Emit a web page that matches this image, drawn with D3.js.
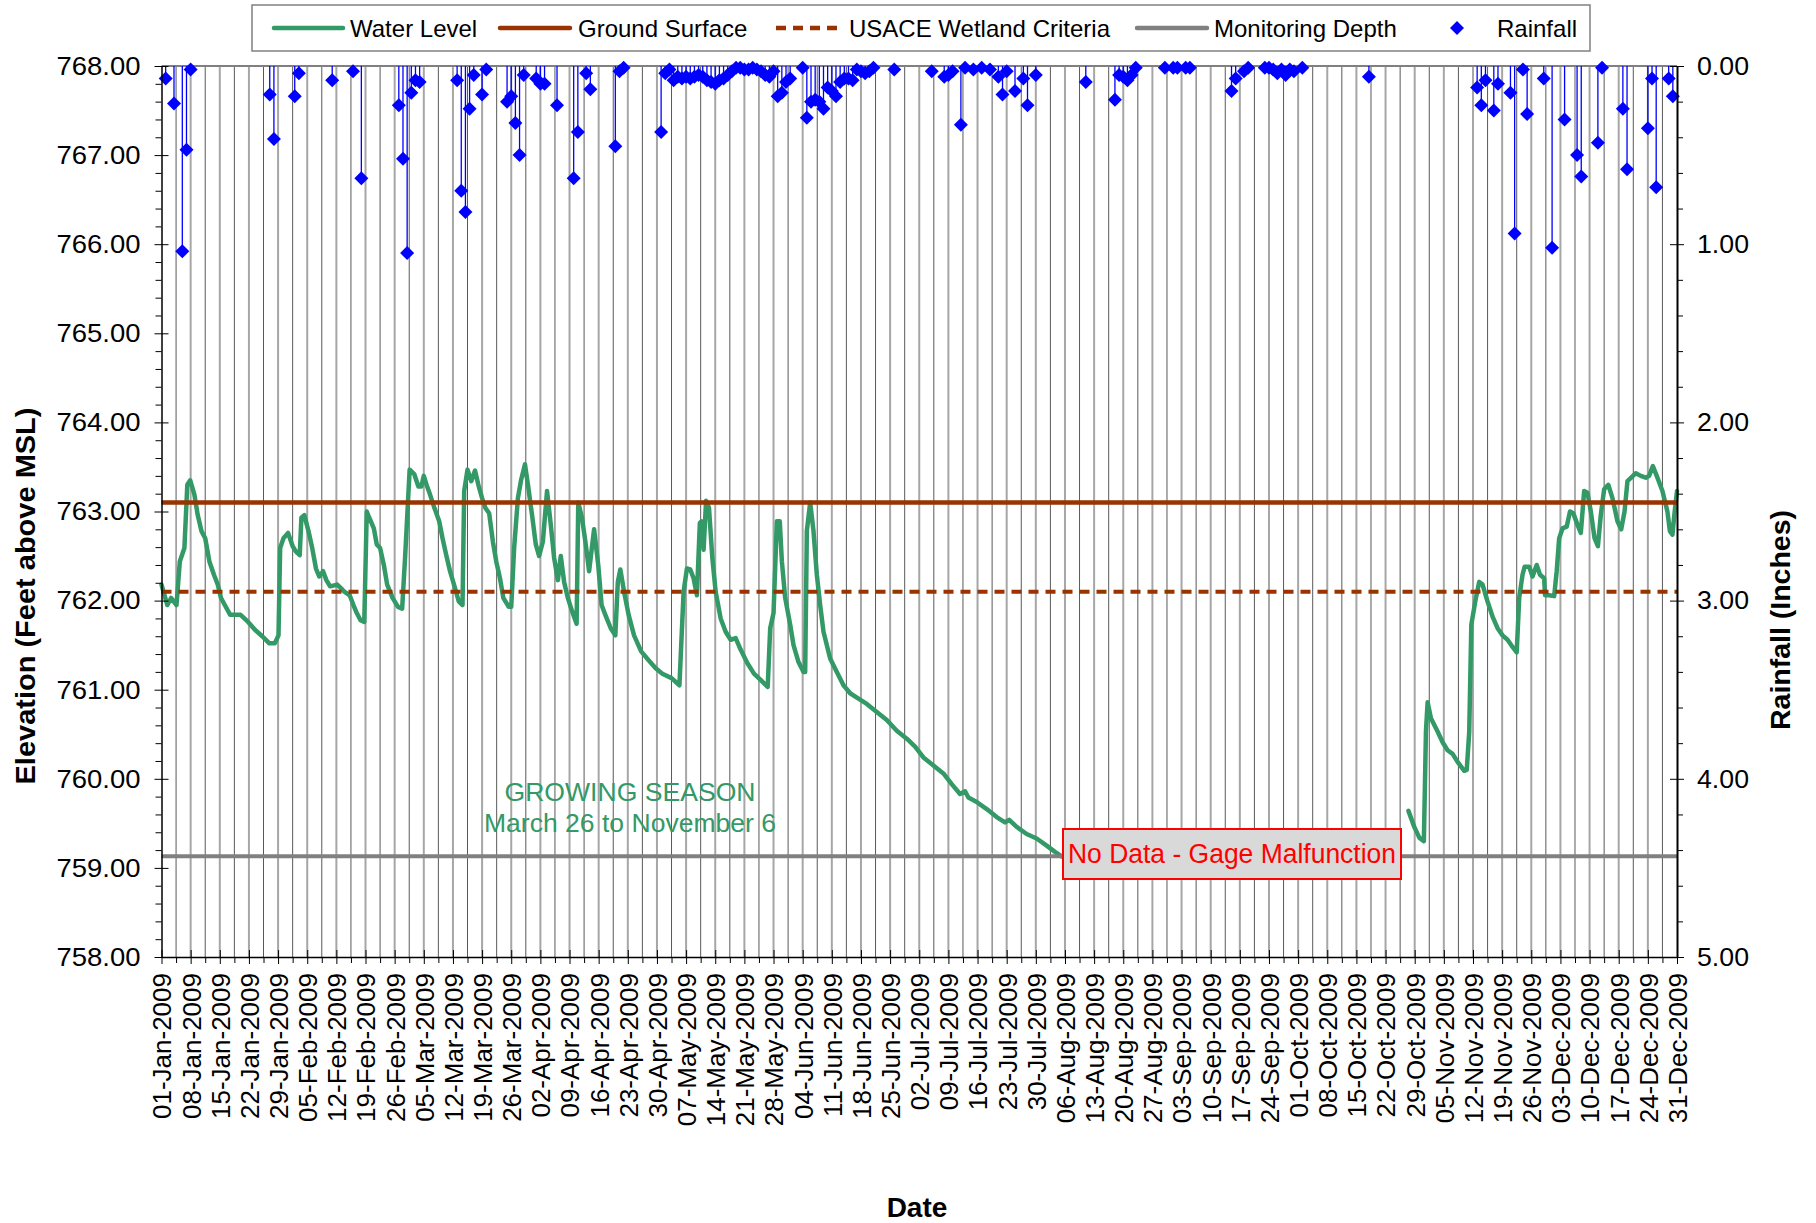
<!DOCTYPE html>
<html><head><meta charset="utf-8">
<script src="https://cdn.jsdelivr.net/npm/d3@7"></script>
<style>
body{margin:0;background:#fff;}
svg{display:block;}
text{font-family:"Liberation Sans",Arial,Helvetica,sans-serif;}
</style>
</head><body>
<svg id="chart" width="1816" height="1223"></svg>
<script>
// ---------------- DATA ----------------
// Day offsets from 01-Jan-2009 and water level elevation (ft above MSL); null = gage malfunction gap
const waterDay = [0,1.4,2.3,3.6,4.4,5.5,6.2,6.9,7.9,8.7,9.6,10.5,11.5,12.6,13.5,14.3,15.2,16.5,19,20.8,22.5,24.2,25.9,27.2,28.1,28.5,29.3,30.4,31.5,32.3,33.2,33.6,34.3,35.3,36.2,37.1,37.9,38.8,39.6,40.5,42.2,43.1,43.9,45.2,46.1,46.9,47.8,48.7,49.3,49.9,51,51.7,52.5,53.4,54.2,55.5,56.8,57.8,58.5,59.6,60.7,61.7,62.4,63,63.8,64.5,65.4,66.7,67.5,68.4,69.3,70.5,71.4,72.3,72.7,73.5,74.4,75.3,76.1,77,77.8,78.7,79.6,80.4,81.3,82.1,83.4,84,84.7,85.6,86.4,87.3,88.1,89,89.9,90.7,91.6,92.6,93.5,94.3,95.2,95.9,96.7,97.6,98.4,99.7,100.1,101,101.9,102.7,103.9,104.9,105.7,106.6,107.9,109,109.6,110.2,111.1,112.2,113.5,115.2,117,118.7,120.3,122.5,124.4,125.4,126.2,127,127.8,128.6,129.3,129.7,130.2,130.8,131.5,132.3,133.1,134.3,135.5,136.7,137.9,139.1,140.7,142.3,143.9,145.6,146.2,147,147.8,148.5,149,149.8,151,151.8,153,154.2,154.6,155,155.8,156.6,157.4,158.2,159,160.6,162.2,163.8,165.4,167.4,169.4,171.8,174.2,176.6,179,181,183,185.4,187.8,189.8,191.8,193,193.8,195.8,198.2,200.6,202.6,203.6,205.4,207.8,210.2,212.6,214.6,216.2,
  258,
  299.5,300.9,302.1,303.2,303.7,304.1,304.9,306.5,307.7,308.9,310.1,311.3,312.9,313.5,314.1,314.6,315.7,316.5,317.3,318.5,319.7,320.9,322.1,323.3,324.5,325.5,326.1,326.9,327.4,328.5,329.3,330.3,331.1,332.1,332.3,333.3,334.5,335.1,335.7,336.5,337.5,338.3,339.1,340.1,340.9,341.7,342.5,343.3,344.2,345,345.7,346.5,347.5,348.5,349.7,350.6,351.4,352.1,353,354.1,355.3,356.5,357.3,358.2,359.3,360.5,361.7,362.3,362.9,363.4,364];
const waterLevel = [762.18,761.95,762.03,761.95,762.44,762.59,763.30,763.35,763.19,762.96,762.78,762.70,762.44,762.29,762.18,762.03,761.95,761.84,761.84,761.76,761.67,761.60,761.52,761.52,761.61,762.59,762.70,762.76,762.61,762.55,762.51,762.93,762.96,762.78,762.59,762.36,762.27,762.33,762.23,762.16,762.18,762.14,762.10,762.06,761.95,761.86,761.78,761.76,763.00,762.93,762.81,762.63,762.59,762.40,762.18,762.03,761.93,761.91,762.48,763.47,763.42,763.28,763.28,763.40,763.28,763.19,763.06,762.89,762.70,762.51,762.33,762.14,761.99,761.95,763.23,763.47,763.34,763.46,763.30,763.15,763.04,762.98,762.66,762.44,762.25,762.03,761.93,761.93,762.59,763.15,763.36,763.53,763.27,762.96,762.63,762.50,762.66,763.23,762.85,762.48,762.23,762.50,762.21,762.03,761.91,761.74,763.10,762.93,762.63,762.33,762.80,762.40,761.95,761.84,761.69,761.61,762.21,762.35,762.10,761.84,761.61,761.43,761.33,761.24,761.18,761.13,761.05,762.10,762.36,762.35,762.25,762.06,762.87,762.89,762.57,763.12,763.04,762.48,762.10,761.80,761.65,761.56,761.58,761.45,761.30,761.18,761.11,761.03,761.69,761.86,762.89,762.89,762.44,762.03,761.73,761.50,761.31,761.20,761.20,762.78,763.10,762.78,762.29,761.95,761.65,761.35,761.20,761.05,760.96,760.90,760.84,760.75,760.66,760.54,760.45,760.36,760.24,760.15,760.06,759.94,759.83,759.86,759.79,759.74,759.66,759.57,759.51,759.54,759.46,759.38,759.33,759.25,759.18,759.13,
  null,
  759.64,759.46,759.34,759.30,760.53,760.86,760.68,760.53,760.41,760.32,760.28,760.19,760.09,760.10,760.53,761.73,762.03,762.21,762.18,761.99,761.82,761.69,761.61,761.56,761.48,761.42,762.03,762.29,762.38,762.38,762.27,762.40,762.29,762.25,762.06,762.06,762.05,762.33,762.70,762.81,762.83,763.00,762.98,762.85,762.76,763.23,763.21,763.00,762.70,762.61,762.96,763.25,763.30,763.15,762.89,762.80,763.00,763.34,763.38,763.43,763.40,763.38,763.40,763.51,763.38,763.23,763.00,762.78,762.74,762.98,763.23];

// Rainfall: day offset from 01-Jan-2009 and daily rainfall (inches)
const rainDay = [1,3,5,6,7,26,27,32,33,41,46,48,57,58,59,60,61,62,71,72,73,74,75,77,78,83,84,85,86,87,90,91,92,95,99,100,102,103,109,110,111,120,121,122,123,124,125,126,127,128,129,130,131,132,133,134,135,136,137,138,139,140,141,142,143,144,145,146,147,148,149,150,151,154,155,156,157,158,159,160,161,162,163,164,165,166,167,168,169,170,171,176,185,188,189,190,192,193,195,197,199,201,202,203,205,207,208,210,222,229,230,231,232,233,234,241,243,244,246,247,257,258,260,261,265,266,267,268,269,270,271,272,274,290,316,317,318,320,321,324,325,327,328,332,334,337,340,341,345,346,351,352,357,358,359,362,363];
const rainInches = [0.07,0.21,1.04,0.47,0.02,0.16,0.41,0.17,0.04,0.08,0.03,0.63,0.22,0.52,1.05,0.15,0.08,0.09,0.08,0.70,0.82,0.24,0.05,0.16,0.02,0.20,0.17,0.32,0.50,0.05,0.07,0.10,0.10,0.22,0.63,0.37,0.04,0.13,0.45,0.03,0.01,0.37,0.04,0.02,0.08,0.06,0.07,0.06,0.07,0.06,0.05,0.06,0.08,0.09,0.10,0.08,0.07,0.05,0.03,0.01,0.01,0.02,0.02,0.01,0.02,0.03,0.05,0.06,0.03,0.17,0.15,0.09,0.07,0.01,0.29,0.20,0.19,0.20,0.24,0.12,0.14,0.17,0.09,0.07,0.07,0.08,0.02,0.03,0.04,0.03,0.01,0.02,0.03,0.06,0.05,0.03,0.33,0.01,0.02,0.01,0.02,0.06,0.16,0.03,0.14,0.07,0.22,0.05,0.09,0.19,0.05,0.06,0.08,0.05,0.01,0.01,0.01,0.01,0.01,0.01,0.14,0.07,0.03,0.01,0.01,0.01,0.02,0.04,0.02,0.05,0.02,0.03,0.01,0.06,0.12,0.22,0.08,0.25,0.10,0.15,0.94,0.02,0.27,0.07,1.02,0.30,0.50,0.62,0.43,0.01,0.24,0.58,0.35,0.07,0.68,0.07,0.17];

// Reference elevations (ft above MSL)
const groundSurface = 763.1;
const wetlandCriteria = 762.1;
const monitoringDepth = 759.13;

// Axis ticks / labels
const elevationTicks = [758,759,760,761,762,763,764,765,766,767,768];
const rainfallTicks = [0,1,2,3,4,5];
const labelDayOffsets = d3.range(0, 365, 7);          // weekly date labels 01-Jan ... 31-Dec
const legendLabels = ["Water Level","Ground Surface","USACE  Wetland Criteria","Monitoring Depth","Rainfall"];
const seasonText = ["GROWING SEASON","March 26 to November 6"];
const gapText = "No Data - Gage Malfunction";

// ---------------- CHART ----------------
const svg = d3.select("#chart");
const P = {left:161.5, right:1677, top:66, bottom:957};
const t0 = Date.UTC(2009,0,1);
const toDate = d => new Date(t0 + d*864e5);
const x = d3.scaleUtc().domain([toDate(0), toDate(364)]).range([P.left, P.right]);
const yL = d3.scaleLinear().domain([758,768]).range([P.bottom, P.top]);
const yR = d3.scaleLinear().domain([0,5]).range([P.top, P.bottom]);

const GREEN = "#339966", BROWN = "#993300", GRAY = "#808080", BLUE = "#0000FF";

// vertical gridlines every 3.5 days
const gridDays = d3.range(3.5, 364, 3.5);
const gG = svg.append("g");
gG.selectAll("line").data(gridDays).join("line")
  .attr("x1", d => x(toDate(d))).attr("x2", d => x(toDate(d)))
  .attr("y1", P.top).attr("y2", P.bottom)
  .attr("stroke", d => (d % 7 === 0) ? "#a6a6a6" : "#595959")
  .attr("stroke-width", d => (d % 7 === 0) ? 2 : 1);

// plot top border
svg.append("line").attr("x1", P.left).attr("x2", P.right).attr("y1", P.top).attr("y2", P.top)
  .attr("stroke", GRAY).attr("stroke-width", 2);

// water level
const wl = waterDay.map((d,i) => ({d, v: waterLevel[i]}));
svg.append("path").datum(wl)
  .attr("fill","none").attr("stroke", GREEN).attr("stroke-width", 4.5)
  .attr("stroke-linejoin","round").attr("stroke-linecap","round")
  .attr("d", d3.line().defined(p => p.v != null).x(p => x(toDate(p.d))).y(p => yL(p.v)));

// reference lines
const refG = svg.append("g");
refG.append("line").attr("x1",P.left).attr("x2",P.right).attr("y1",yL(groundSurface)).attr("y2",yL(groundSurface))
  .attr("stroke",BROWN).attr("stroke-width",4.5);
refG.append("line").attr("x1",P.left).attr("x2",P.right).attr("y1",yL(wetlandCriteria)).attr("y2",yL(wetlandCriteria))
  .attr("stroke",BROWN).attr("stroke-width",4).attr("stroke-dasharray","10,7");
refG.append("line").attr("x1",P.left).attr("x2",P.right).attr("y1",yL(monitoringDepth)).attr("y2",yL(monitoringDepth))
  .attr("stroke",GRAY).attr("stroke-width",4);

// rainfall stems + diamonds
const rain = rainDay.map((d,i) => ({d, v: rainInches[i]}));
const rG = svg.append("g");
rG.selectAll("line").data(rain).join("line")
  .attr("x1", p => x(toDate(p.d))).attr("x2", p => x(toDate(p.d)))
  .attr("y1", yR(0)).attr("y2", p => yR(p.v))
  .attr("stroke", BLUE).attr("stroke-width", 1.3);
const dia = r => `M0,${-r}L${r},0L0,${r}L${-r},0Z`;
rG.selectAll("path").data(rain).join("path")
  .attr("d", dia(7))
  .attr("transform", p => `translate(${x(toDate(p.d))},${yR(p.v)})`)
  .attr("fill", BLUE);

// axes
const axG = svg.append("g");
// x axis
const xAx = axG.append("g").attr("transform", `translate(0,${P.bottom})`)
  .call(d3.axisBottom(x).tickValues(labelDayOffsets.map(toDate)).tickFormat(d3.utcFormat("%d-%b-%Y")).tickSize(7).tickSizeOuter(0));
xAx.select(".domain").attr("stroke","#000").attr("stroke-width",1.5);
xAx.selectAll(".tick line").attr("y1",-7).attr("stroke","#000");
xAx.selectAll(".tick text")
  .attr("transform","rotate(-90)").attr("text-anchor","end")
  .attr("x",-16).attr("y",0).attr("dy","0.36em")
  .attr("font-size",26).attr("fill","#000");
const xMin = axG.append("g").attr("transform", `translate(0,${P.bottom})`)
  .call(d3.axisBottom(x).tickValues(labelDayOffsets.slice(0,-1).map(d => toDate(d+3.5))).tickFormat("").tickSize(6).tickSizeOuter(0));
xMin.select(".domain").remove();

// left axis
const lAx = axG.append("g").attr("transform", `translate(${P.left},0)`)
  .call(d3.axisLeft(yL).tickValues(elevationTicks).tickFormat(d3.format(".2f")).tickSize(7).tickPadding(14).tickSizeOuter(0));
lAx.select(".domain").attr("stroke","#000").attr("stroke-width",1.5);
lAx.selectAll(".tick line").attr("x1",7).attr("stroke","#000");
lAx.selectAll(".tick text").attr("font-size",26).attr("fill","#000").attr("textLength",84).attr("lengthAdjust","spacingAndGlyphs");
const lMin = axG.append("g").attr("transform", `translate(${P.left},0)`)
  .call(d3.axisLeft(yL).tickValues(d3.range(758.2, 768, 0.2).filter(v => Math.abs(v - Math.round(v)) > 0.01)).tickFormat("").tickSize(6).tickSizeOuter(0));
lMin.select(".domain").remove();

// right axis
const rAx = axG.append("g").attr("transform", `translate(${P.right},0)`)
  .call(d3.axisRight(yR).tickValues(rainfallTicks).tickFormat(d3.format(".2f")).tickSize(7).tickPadding(13).tickSizeOuter(0));
rAx.select(".domain").attr("stroke","#000").attr("stroke-width",2);
rAx.selectAll(".tick line").attr("x1",-7).attr("stroke","#000");
rAx.selectAll(".tick text").attr("font-size",26).attr("fill","#000").attr("textLength",52).attr("lengthAdjust","spacingAndGlyphs");
const rMin = axG.append("g").attr("transform", `translate(${P.right},0)`)
  .call(d3.axisRight(yR).tickValues(d3.range(0.2, 5, 0.2).filter(v => Math.abs(v - Math.round(v)) > 0.01)).tickFormat("").tickSize(6).tickSizeOuter(0));
rMin.select(".domain").remove();

// axis titles
svg.append("text").attr("transform","translate(35,596) rotate(-90)").attr("text-anchor","middle")
  .attr("font-size",28).attr("font-weight","bold").attr("textLength",377).attr("lengthAdjust","spacingAndGlyphs")
  .text("Elevation (Feet above MSL)");
svg.append("text").attr("transform","translate(1790,620) rotate(-90)").attr("text-anchor","middle")
  .attr("font-size",28).attr("font-weight","bold").attr("textLength",220).attr("lengthAdjust","spacingAndGlyphs")
  .text("Rainfall (Inches)");
svg.append("text").attr("x",917).attr("y",1217).attr("text-anchor","middle")
  .attr("font-size",28).attr("font-weight","bold").text("Date");

// growing season annotation
svg.append("text").attr("x",630).attr("y",801).attr("text-anchor","middle").attr("fill",GREEN)
  .attr("font-size",26).attr("textLength",251).attr("lengthAdjust","spacingAndGlyphs").text(seasonText[0]);
svg.append("text").attr("x",630).attr("y",832).attr("text-anchor","middle").attr("fill",GREEN)
  .attr("font-size",26).attr("textLength",292).attr("lengthAdjust","spacingAndGlyphs").text(seasonText[1]);

// gap annotation
svg.append("rect").attr("x",1063).attr("y",829).attr("width",338).attr("height",50)
  .attr("fill","#d9d9d9").attr("stroke","#ff0000").attr("stroke-width",2);
svg.append("text").attr("x",1232).attr("y",863).attr("text-anchor","middle").attr("fill","#ff0000")
  .attr("font-size",27).attr("textLength",328).attr("lengthAdjust","spacingAndGlyphs").text(gapText);

// legend
const lg = svg.append("g");
lg.append("rect").attr("x",252).attr("y",5).attr("width",1338).attr("height",46)
  .attr("fill","#fff").attr("stroke",GRAY).attr("stroke-width",1.5);
const ly = 28;
const legendDefs = [
  {type:"line", color:GREEN, x1:274, x2:343, tx:350},
  {type:"line", color:BROWN, x1:500, x2:570, tx:578},
  {type:"dash", color:BROWN, x1:776, x2:840, tx:849},
  {type:"line", color:GRAY,  x1:1137, x2:1207, tx:1214},
  {type:"diamond", color:BLUE, cx:1457, tx:1497}
];
legendDefs.forEach((L,i) => {
  if (L.type === "diamond") {
    lg.append("path").attr("d", dia(7)).attr("transform",`translate(${L.cx},${ly})`).attr("fill",L.color);
  } else {
    lg.append("line").attr("x1",L.x1).attr("x2",L.x2).attr("y1",ly).attr("y2",ly)
      .attr("stroke",L.color).attr("stroke-width",4.5)
      .attr("stroke-linecap", L.type === "dash" ? "butt" : "round")
      .attr("stroke-dasharray", L.type === "dash" ? "10,7" : null);
  }
  lg.append("text").attr("x",L.tx).attr("y",ly).attr("dy","0.36em").attr("font-size",24)
    .text(legendLabels[i]);
});
</script>
</body></html>
